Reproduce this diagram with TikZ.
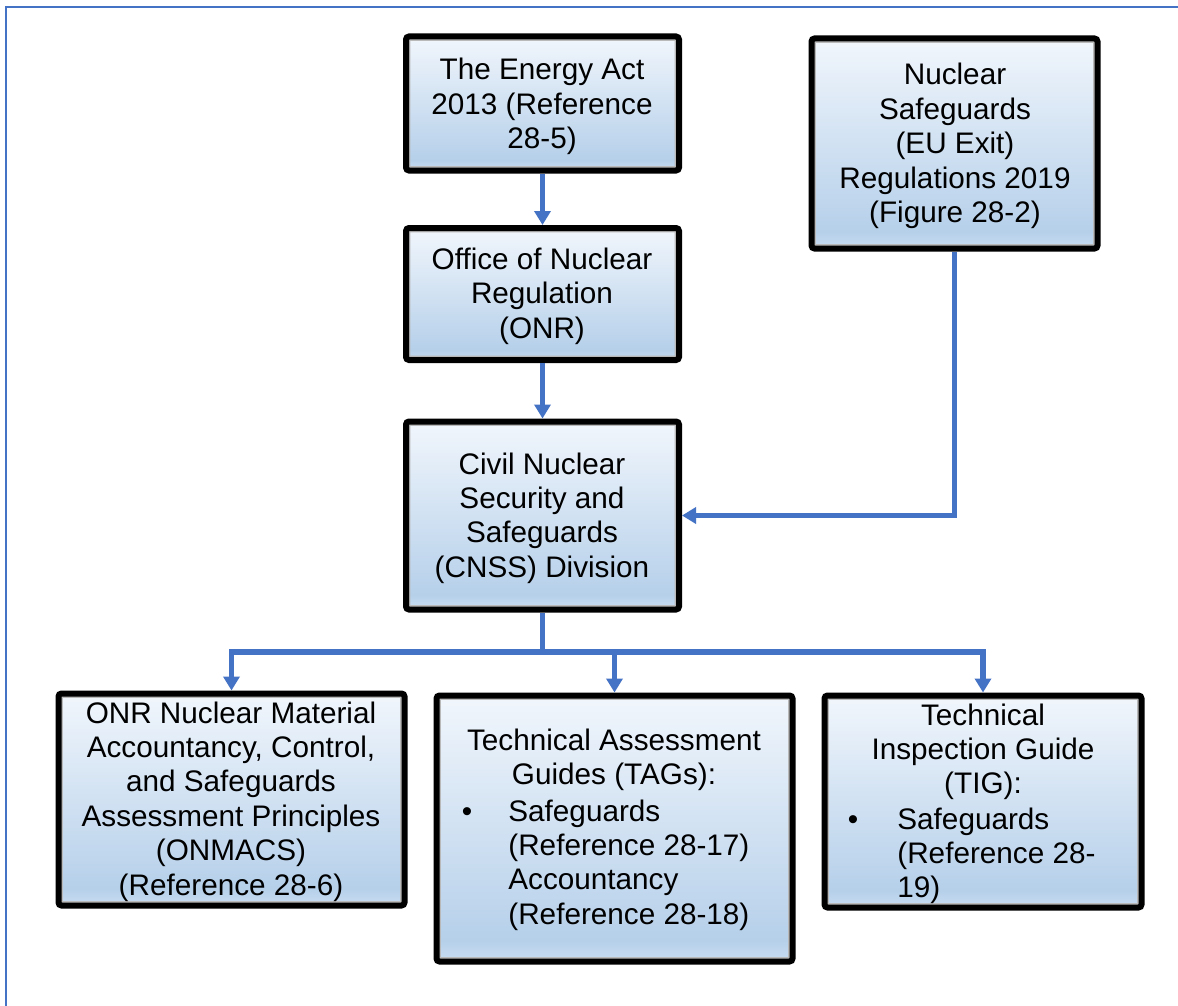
\documentclass[tikz,border=0pt]{standalone}
\usepackage{fontspec}
\setmainfont{Liberation Sans}
\usetikzlibrary{arrows.meta}
\definecolor{linkblue}{HTML}{4472C4}
\definecolor{ctop}{HTML}{F1F6FC}
\definecolor{cdark}{HTML}{B6D0EA}
\definecolor{cbot}{HTML}{C9DDF1}
\pgfdeclareverticalshading{boxshade}{100bp}{color(0bp)=(cbot); color(25bp)=(cbot); color(29bp)=(cdark); color(75bp)=(ctop); color(100bp)=(ctop)}
\newcommand{\clines}[1]{\begin{tabular}[t]{@{}c@{}}#1\end{tabular}}
\newcommand{\llines}[1]{\begin{tabular}[t]{@{}l@{}}#1\end{tabular}}
\begin{document}
\begin{tikzpicture}[x=0.5pt,y=-0.5pt,
  box/.style={draw=black, line width=3pt, rounded corners=1.5pt, shading=boxshade, inner sep=0pt,
    path picture={\draw[gray!55, line width=4.4pt] (path picture bounding box.north west) rectangle (path picture bounding box.south east);}},
  txt/.style={font=\fontsize{14.85pt}{17.2pt}\selectfont, inner sep=0pt, anchor=base},
  link/.style={draw=linkblue, line width=2.6pt},
  arr/.style={link, -{Triangle[width=8pt,length=7pt]}}]
\useasboundingbox (0,0) rectangle (1178,1006);
\clip (0,0) rectangle (1178,1006);
\fill[white] (0,0) rectangle (1178,1006);
\draw[linkblue, line width=1pt] (6,1100) -- (6,7) -- (1300,7);

% boxes
\node[box, minimum width=136.5pt, minimum height=67pt] (act) at (542.5,103.5) {};
\node[txt] (act-t) at (542,80) {\clines{The Energy Act\\2013 (Reference\\28-5)}};

\node[box, minimum width=136.5pt, minimum height=66pt] (onr) at (542.5,294) {};
\node[txt] (onr-t) at (542,269.5) {\clines{Office of Nuclear\\Regulation\\(ONR)}};

\node[box, minimum width=143pt, minimum height=105pt] (nsr) at (954.5,143.5) {};
\node[txt] (nsr-t) at (955,85) {\clines{Nuclear\\Safeguards\\(EU Exit)\\Regulations 2019\\(Figure 28-2)}};

\node[box, minimum width=136.5pt, minimum height=94pt] (cnss) at (542.5,515.5) {};
\node[txt] (cnss-t) at (542,474) {\clines{Civil Nuclear\\Security and\\Safeguards\\(CNSS) Division}};

\node[box, minimum width=173pt, minimum height=106pt] (onmacs) at (231.5,799.5) {};
\node[txt] (onmacs-t) at (231,723) {\clines{ONR Nuclear Material\\Accountancy, Control,\\and Safeguards\\Assessment Principles\\(ONMACS)\\(Reference 28-6)}};

\node[box, minimum width=178pt, minimum height=133pt] (tags) at (614.5,828.5) {};
\node[txt] (tags-t) at (614,750) {\clines{Technical Assessment\\Guides (TAGs):}};
\node[txt] (tags-b) at (467,821) {\textbullet};
\node[txt, anchor=base west] (tags-i) at (508,821) {\llines{Safeguards\\(Reference 28-17)\\Accountancy\\(Reference 28-18)}};

\node[box, minimum width=158.5pt, minimum height=106pt] (tig) at (983,801.5) {};
\node[txt] (tig-t) at (983,725) {\clines{Technical\\Inspection Guide\\(TIG):}};
\node[txt] (tig-b) at (853,829) {\textbullet};
\node[txt, anchor=base west] (tig-i) at (897,829) {\llines{Safeguards\\(Reference 28-\\19)}};

% connectors
\draw[arr] (act) -- (onr);
\draw[arr] (onr) -- (cnss);
\draw[arr] (nsr.south) |- (cnss.east);
\coordinate (bus) at (542.5,652);
\draw[link] (cnss.south) -- (bus);
\draw[arr] (bus) -| (onmacs.north);
\draw[arr] (bus) -| (tags.north);
\draw[arr] (bus) -| (tig.north);
\end{tikzpicture}
\end{document}
